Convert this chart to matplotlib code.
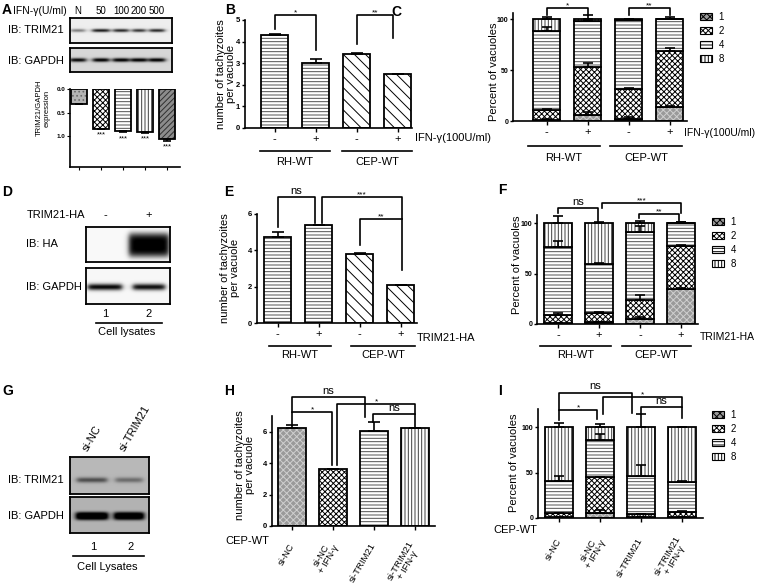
import numpy as np
import matplotlib.pyplot as plt
from matplotlib.patches import Patch

plt.rcParams['font.family'] = ['Liberation Sans', 'DejaVu Sans']
plt.rcParams['hatch.linewidth'] = 0.7

W, H = 758, 588

# ---------------- data ----------------
# A: IFN-gamma dose, TRIM21/GAPDH
a_doses = ['N', '50', '100', '200', '500']
a_ratio = [0.31, 0.84, 0.89, 0.91, 1.05]
a_err = [0.0, 0.0, 0.03, 0.02, 0.04]
a_stars = ['', '***', '***', '***', '***']
a_trim21_band = [0.45, 0.85, 0.8, 0.75, 0.8]
a_gapdh_band = [0.85, 0.9, 0.9, 0.9, 0.9]

# B / E: tachyzoites per vacuole
signs = ['-', '+', '-', '+']
strains = ['RH-WT', 'CEP-WT']
b_mean = [4.3, 3.0, 3.42, 2.5]
b_err = [0.05, 0.2, 0.06, 0.0]
e_mean = [4.75, 5.4, 3.82, 2.1]
e_err = [0.25, 0.02, 0.05, 0.0]

# C / F / I: percent of vacuoles, one list per vacuole size
sizes = ['1', '2', '4', '8']
c_1 = [1, 6, 2, 14]
c_2 = [10, 47, 29, 55]
c_4 = [77, 45, 68, 31]
c_8 = [12, 2, 1, 0]
c_err = [[0.5, 3, 2, 1], [1, 4, 1, 3], [4, 0.5, 0.5, 0.5], [2, 4, 0.5, 2]]

f_1 = [1, 1.5, 5, 35]
f_2 = [8, 9.5, 19, 42]
f_4 = [67, 48, 67, 23]
f_8 = [24, 41, 9, 0]
f_err = [[0.3, 0.3, 2, 0.5], [2, 0.5, 5, 1], [6, 1, 6, 1], [7, 1, 2, 1]]

# D: blot
d_lanes = ['-', '+']
d_ha_band = [0.0, 1.0]
d_gapdh_band = [0.95, 0.92]

# G: blot
g_lanes = ['si-NC', 'si-TRIM21']
g_trim21_band = [0.42, 0.3]
g_gapdh_band = [0.95, 0.92]

# H / I: siRNA
si_labels = ['si-NC', 'si-NC\n+ IFN-γ', 'si-TRIM21', 'si-TRIM21\n+ IFN-γ']
h_mean = [6.25, 3.6, 6.07, 6.22]
h_err = [0.17, 0.03, 0.58, 0.0]

i_1 = [1, 6, 1, 1]
i_2 = [4, 39, 3, 6]
i_4 = [36, 41, 42, 33]
i_8 = [59, 14, 54, 60]
i_err = [[0.3, 3, 0.3, 0.3], [0.5, 0.5, 0.5, 0.5], [5, 7, 12, 1], [5, 3, 14, 0.5]]

# fill, hatch, hatch colour
styles = {
    'gray': ('#9a9a9a', 'xxxxx', '#cfcfcf'),
    'check': ('white', 'xxxxxx', 'black'),
    'hline': ('white', '-----', '#505050'),
    'vline': ('white', '|||||', '#404040'),
    'diag': ('white', '\\\\\\', 'black'),
    'dark': ('#8c8c8c', '//////', '#303030'),
    'dots': ('#b4b4b4', '....', '#6a6a6a'),
}
stack_styles = ['gray', 'check', 'hline', 'vline']

fig = plt.figure(figsize=(W / 100, H / 100), dpi=100)


def ftext(x, y, s, **kw):
    kw.setdefault('fontsize', 8)
    kw.setdefault('va', 'center')
    return fig.text(x / W, 1 - y / H, s, **kw)


def bar_axes(x0, y0, x1, y1, c0, step, ylim):
    ax = fig.add_axes([x0 / W, 1 - y1 / H, (x1 - x0) / W, (y1 - y0) / H])
    ax.set_xlim((x0 - c0) / step, (x1 - c0) / step)
    ax.set_ylim(*ylim)
    ax.patch.set_alpha(0)
    for s in ['top', 'right']:
        ax.spines[s].set_visible(False)
    for s in ['left', 'bottom']:
        ax.spines[s].set_linewidth(1.2)
    ax.tick_params(width=1.0, length=3, pad=1.5)
    ax.tick_params(axis='y', length=2.5, pad=1)
    ax.hpx = y1 - y0
    return ax


def draw_bar(ax, x, h, style, width=0.66, bottom=0):
    fc, hatch, hc = styles[style]
    ax.bar(x, h, width, bottom=bottom, color=fc, edgecolor=hc, hatch=hatch, linewidth=0)
    ax.bar(x, h, width, bottom=bottom, fill=False, edgecolor='black', linewidth=1.3)


def up_err(ax, x, top, err, cap=3.5):
    ax.errorbar(x, top, yerr=[np.zeros(len(err)), err], fmt='none', ecolor='black',
                elinewidth=1.2, capsize=cap, capthick=1.2)


def stacked(ax, segs, errs):
    x = np.arange(4)
    bottom = np.zeros(4)
    tops = []
    for seg, st in zip(segs, stack_styles):
        seg = np.array(seg, float)
        draw_bar(ax, x, seg, st, bottom=bottom)
        bottom = bottom + seg
        tops.append(bottom.copy())
    for top, e in zip(tops, errs):
        up_err(ax, x, top, e)


def yt(ax, ticks, labels, fs=6):
    ax.set_yticks(ticks, labels, fontsize=fs, fontweight='bold')


def group_lines(ax, spans, names, dy_line, dy_text):
    tr = ax.get_xaxis_transform()
    for (a, b), n in zip(spans, names):
        ax.plot([a, b], [-dy_line / ax.hpx] * 2, transform=tr, color='black', lw=1.2, clip_on=False)
        ax.text((a + b) / 2, -dy_text / ax.hpx, n, transform=tr, ha='center', va='center', fontsize=8)


def bracket(ax, xa, xb, top, la, lb, txt):
    ax.plot([xa, xa, xb, xb], [la, top, top, lb], color='black', lw=1.2, clip_on=False)
    fs = 8 if txt == 'ns' else 6
    dy = 1 if txt == 'ns' else -1
    ax.annotate(txt, ((xa + xb) / 2, top), xytext=(0, dy), textcoords='offset points',
                ha='center', va='bottom', fontsize=fs, annotation_clip=False)


def size_legend(ax, x, y):
    handles = [Patch(facecolor=styles[s][0], edgecolor='black', hatch=styles[s][1], linewidth=0.8)
               for s in stack_styles]
    ax.legend(handles, sizes, loc='upper left', bbox_to_anchor=(x / W, 1 - y / H),
              bbox_transform=fig.transFigure, frameon=False, fontsize=7,
              handlelength=1.2, handleheight=0.75, handletextpad=0.7,
              labelspacing=0.42, borderpad=0, borderaxespad=0)


def blot(x0, y0, x1, y1, lanes, widths, band_y, band_h, intens, bg, power=2):
    ax = fig.add_axes([x0 / W, 1 - y1 / H, (x1 - x0) / W, (y1 - y0) / H])
    w, h = int(x1 - x0) * 2, int(y1 - y0) * 2
    xx = x0 + (np.arange(w)[None, :] + 0.5) / 2
    yy = y0 + (np.arange(h)[:, None] + 0.5) / 2
    img = np.full((h, w), float(bg))
    for c, bw, k in zip(lanes, widths, intens):
        horiz = 1 / (1 + np.exp((np.abs(xx - c) - bw / 2) / 1.5))
        vert = np.exp(-(np.abs(yy - band_y) / band_h) ** power)
        img = img - k * horiz * vert
    ax.imshow(np.clip(img, 0, 1), cmap='gray', vmin=0, vmax=1, aspect='auto',
              interpolation='bilinear', extent=(x0, x1, y1, y0))
    ax.set_xticks([])
    ax.set_yticks([])
    for s in ax.spines.values():
        s.set_linewidth(1.3)
    return ax


x4 = np.arange(4)

# ---------------- A ----------------
ftext(2, 10, 'A', fontsize=10, fontweight='bold')
ftext(13, 11, 'IFN-γ(U/ml)', fontsize=7.5)
a_lane_px = [78, 101, 121, 139, 157]
for xp, d in zip(a_lane_px, a_doses):
    ftext(xp, 11, d, ha='center', fontsize=7)
blot(70, 18, 172, 43, a_lane_px, [14, 17, 15, 13, 15], 30.5, 1.6, a_trim21_band, 0.93)
blot(70, 48, 172, 72, a_lane_px, [16, 16, 16, 16, 16], 60, 1.9, a_gapdh_band, 0.84)
ftext(8, 30, 'IB: TRIM21')
ftext(8, 61, 'IB: GAPDH')

ax = bar_axes(70, 89, 180, 167, 79, 22, (1.65, 0))
x5 = np.arange(5)
for xi, v, st in zip(x5, a_ratio, ['dots', 'check', 'hline', 'vline', 'dark']):
    draw_bar(ax, xi, v, st, width=0.72)
up_err(ax, x5, a_ratio, a_err, cap=3)
for xi, v, e, s in zip(x5, a_ratio, a_err, a_stars):
    ax.text(xi, v + e + 0.13, s, ha='center', va='center', fontsize=5.5)
yt(ax, [0, 0.5, 1.0], ['0.0', '0.5', '1.0'], fs=4.5)
ax.set_xticks(x5, [''] * 5)
ax.tick_params(length=2.5, width=0.8)
ftext(43, 108, 'TRIM21/GAPDH\nexpression', fontsize=5.5, rotation=90, ha='center', multialignment='center')

# ---------------- B ----------------
ftext(225, 10, 'B', fontsize=10, fontweight='bold')
ax = bar_axes(245, 20, 412, 128, 274.5, 41, (0, 5))
for xi, v, st in zip(x4, b_mean, ['hline', 'hline', 'diag', 'diag']):
    draw_bar(ax, xi, v, st)
up_err(ax, x4, b_mean, b_err, cap=4.5)
yt(ax, range(6), [str(i) for i in range(6)], fs=5.5)
ax.set_xticks(x4, signs, fontsize=8)
group_lines(ax, [(-0.35, 1.35), (1.65, 3.35)], strains, 23, 34)
ftext(415, 138, 'IFN-γ(100U/ml)')
bracket(ax, 0, 1, 5.23, 4.6, 3.6, '*')
bracket(ax, 2, 2.9, 5.23, 3.9, 4.15, '**')
ftext(226, 74, 'number of tachyzoites\nper vacuole', rotation=90, ha='center',
      multialignment='center', linespacing=1.05)

# ---------------- C ----------------
ftext(391, 12, 'C', fontsize=10, fontweight='bold')
ax = bar_axes(513, 13, 687, 121, 546.5, 41, (0, 106))
stacked(ax, [c_1, c_2, c_4, c_8], c_err)
yt(ax, [0, 50, 100], ['0', '50', '100'], fs=5)
ax.set_xticks(x4, signs, fontsize=8)
group_lines(ax, [(-0.45, 1.3), (1.55, 3.3)], strains, 25, 37)
ftext(684, 133, 'IFN-γ(100U/ml)', fontsize=7.5)
size_legend(ax, 700, 12)
bracket(ax, 0, 1, 111, 104, 104, '*')
bracket(ax, 2, 3, 111, 104, 104, '**')
ftext(494, 72, 'Percent of vacuoles', rotation=90, ha='center')

# ---------------- D ----------------
ftext(2, 192, 'D', fontsize=10, fontweight='bold')
ftext(27, 215, 'TRIM21-HA')
d_lane_px = [105, 149]
for xp, s in zip(d_lane_px, d_lanes):
    ftext(xp, 215, s, ha='center')
blot(86, 227, 170, 262, d_lane_px, [34, 40], 245, 12, d_ha_band, 0.98, power=4)
blot(86, 268, 170, 304, d_lane_px, [34, 32], 287, 3.2, d_gapdh_band, 0.97, power=2)
ftext(26, 244, 'IB: HA')
ftext(26, 287, 'IB: GAPDH')
for xp, n in zip(d_lane_px, ['1', '2']):
    ftext(xp, 314, n, ha='center')
fig.add_artist(plt.Line2D([96 / W, 162 / W], [1 - 323 / H] * 2, color='black', lw=1.2))
ftext(127, 332, 'Cell lysates', ha='center')

# ---------------- E ----------------
ftext(224, 192, 'E', fontsize=10, fontweight='bold')
ax = bar_axes(257, 214, 417, 323, 277.5, 41, (0, 6))
for xi, v, st in zip(x4, e_mean, ['hline', 'hline', 'diag', 'diag']):
    draw_bar(ax, xi, v, st)
up_err(ax, x4, e_mean, e_err, cap=4.5)
yt(ax, [0, 2, 4, 6], ['0', '2', '4', '6'], fs=5.5)
ax.set_xticks(x4, signs, fontsize=8)
group_lines(ax, [(-0.2, 1.3), (1.8, 3.35)], strains, 23, 32)
ftext(417, 338, 'TRIM21-HA')
bracket(ax, 0, 0.92, 6.93, 5.28, 5.5, 'ns')
bracket(ax, 1.09, 3.04, 6.93, 5.5, 2.9, '***')
bracket(ax, 2, 3.04, 5.72, 4.3, 5.72, '**')
ftext(230, 268, 'number of tachyzoites\nper vacuole', rotation=90, ha='center',
      multialignment='center', linespacing=1.05)

# ---------------- F ----------------
ftext(498, 190, 'F', fontsize=10, fontweight='bold')
ax = bar_axes(537, 215, 698, 324, 558, 41, (0, 108))
stacked(ax, [f_1, f_2, f_4, f_8], f_err)
yt(ax, [0, 50, 100], ['0', '50', '100'], fs=5)
ax.set_xticks(x4, signs, fontsize=8)
group_lines(ax, [(-0.45, 1.3), (1.55, 3.25)], strains, 22, 31)
ftext(700, 337, 'TRIM21-HA', fontsize=7.5)
size_legend(ax, 712, 217)
bracket(ax, 0, 0.98, 115, 110, 101, 'ns')
bracket(ax, 1.07, 3.0, 120, 115, 110, '***')
bracket(ax, 1.98, 2.95, 109, 105, 102, '**')
ftext(517, 265, 'Percent of vacuoles', rotation=90, ha='center')

# ---------------- G ----------------
ftext(2, 391, 'G', fontsize=10, fontweight='bold')
g_lane_px = [92, 129]
for xp, s in zip([89, 126], g_lanes):
    fig.text(xp / W, 1 - 453 / H, s, rotation=60, ha='left', va='bottom',
             rotation_mode='anchor', fontsize=8)
blot(70, 457, 149, 494, g_lane_px, [30, 27], 480, 2.6, g_trim21_band, 0.72)
blot(70, 497, 149, 533, g_lane_px, [32, 30], 516, 4.0, g_gapdh_band, 0.7, power=3)
ftext(8, 480, 'IB: TRIM21')
ftext(8, 516, 'IB: GAPDH')
for xp, n in zip([93, 131], ['1', '2']):
    ftext(xp, 547, n, ha='center')
fig.add_artist(plt.Line2D([73 / W, 144 / W], [1 - 556 / H] * 2, color='black', lw=1.2))
ftext(107, 567, 'Cell Lysates', ha='center')

# ---------------- H ----------------
ftext(224, 391, 'H', fontsize=10, fontweight='bold')
ax = bar_axes(272, 416, 435, 526, 292, 41, (0, 7))
for xi, v, st in zip(x4, h_mean, stack_styles):
    draw_bar(ax, xi, v, st)
up_err(ax, x4, h_mean, h_err, cap=4.5)
yt(ax, [0, 2, 4, 6], ['0', '2', '4', '6'], fs=5.5)
ax.set_xticks(x4, si_labels, fontsize=6.8, rotation=60, ha='right', va='center',
              rotation_mode='anchor', multialignment='center', linespacing=1.0)
ax.tick_params(axis='x', pad=10)
ftext(225, 541, 'CEP-WT')
bracket(ax, 0, 1.78, 8.2, 7.25, 6.95, 'ns')
bracket(ax, 0, 0.98, 7.25, 6.45, 3.9, '*')
bracket(ax, 1.1, 3.0, 7.77, 3.9, 7.13, '*')
bracket(ax, 1.98, 3.0, 7.13, 6.6, 6.3, 'ns')
ftext(245, 465, 'number of tachyzoites\nper vacuole', rotation=90, ha='center',
      multialignment='center', linespacing=1.05)

# ---------------- I ----------------
ftext(498, 391, 'I', fontsize=10, fontweight='bold')
ax = bar_axes(538, 409, 703, 518, 559, 41, (0, 120))
stacked(ax, [i_1, i_2, i_4, i_8], i_err)
yt(ax, [0, 50, 100], ['0', '50', '100'], fs=5)
ax.set_xticks(x4, si_labels, fontsize=6.8, rotation=60, ha='right', va='center',
              rotation_mode='anchor', multialignment='center', linespacing=1.0)
ax.tick_params(axis='x', pad=12)
ftext(493, 530, 'CEP-WT')
size_legend(ax, 712, 410)
bracket(ax, 0, 1.78, 138, 119, 116, 'ns')
bracket(ax, 0, 0.93, 119, 108, 109, '*')
bracket(ax, 1.07, 3.0, 133, 115, 122, '*')
bracket(ax, 2.0, 3.0, 122, 115, 110, 'ns')
ftext(514, 463, 'Percent of vacuoles', rotation=90, ha='center')

fig.savefig('out.png', dpi=100)
